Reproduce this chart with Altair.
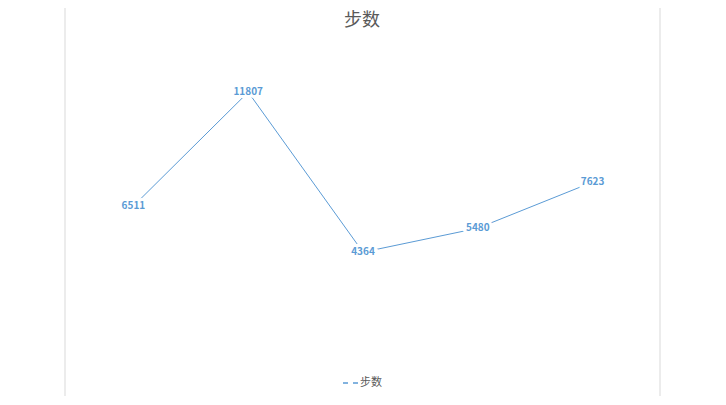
import pandas as pd
import altair as alt

dates = ["9月10日", "9月11日", "9月12日", "9月13日", "9月14日"]
steps = [6511, 11807, 4364, 5480, 7623]

LINE = "#5B9BD5"
GREY = "#595959"
FONT = "Noto Sans CJK SC"

df = pd.DataFrame({"date": dates, "steps": steps})

x = alt.X("date:N", sort=dates, scale=alt.Scale(type="point", padding=0.5),
          axis=alt.Axis(title=None, labelAngle=0, labelColor=GREY, labelFontSize=11,
                        labelFont=FONT, domainColor="#D9D9D9", ticks=False, labelPadding=8))
y = alt.Y("steps:Q", scale=alt.Scale(domain=[0, 14000]), axis=None)

base = alt.Chart(df).encode(x=x, y=y)

line = base.mark_line(color=LINE, strokeWidth=1)
halo = base.mark_text(fontSize=10, fontWeight="bold", font=FONT, stroke="white",
                      strokeWidth=6, color="white").encode(text="steps:Q")
labels = base.mark_text(fontSize=10, fontWeight="bold", font=FONT, color=LINE).encode(text="steps:Q")

one = pd.DataFrame({"t": ["步数"]})
border = alt.Chart(one).mark_rect(fill="white", stroke="#D9D9D9", strokeWidth=1).encode(
    x=alt.value(-11), x2=alt.value(584), y=alt.value(-42), y2=alt.value(355))
title = alt.Chart(one).mark_text(fontSize=18, color=GREY, font=FONT).encode(
    x=alt.value(286), y=alt.value(-24), text="t:N")
leg_line = alt.Chart(one).mark_rule(color=LINE, strokeWidth=1.5, strokeDash=[5, 5]).encode(
    x=alt.value(267), x2=alt.value(282), y=alt.value(338))
leg_text = alt.Chart(one).mark_text(fontSize=11, color=GREY, font=FONT, align="left").encode(
    x=alt.value(284), y=alt.value(338), text="t:N")

chart = alt.layer(border, line, halo, labels, title, leg_line, leg_text).properties(
    width=574, height=301, autosize=alt.AutoSizeParams(type="none"),
    padding={"left": 68, "top": 37, "right": 66, "bottom": 50},
).configure_view(stroke=None).configure(background="white")

chart.save("out.html", embed_options={"renderer": "svg", "actions": False})
